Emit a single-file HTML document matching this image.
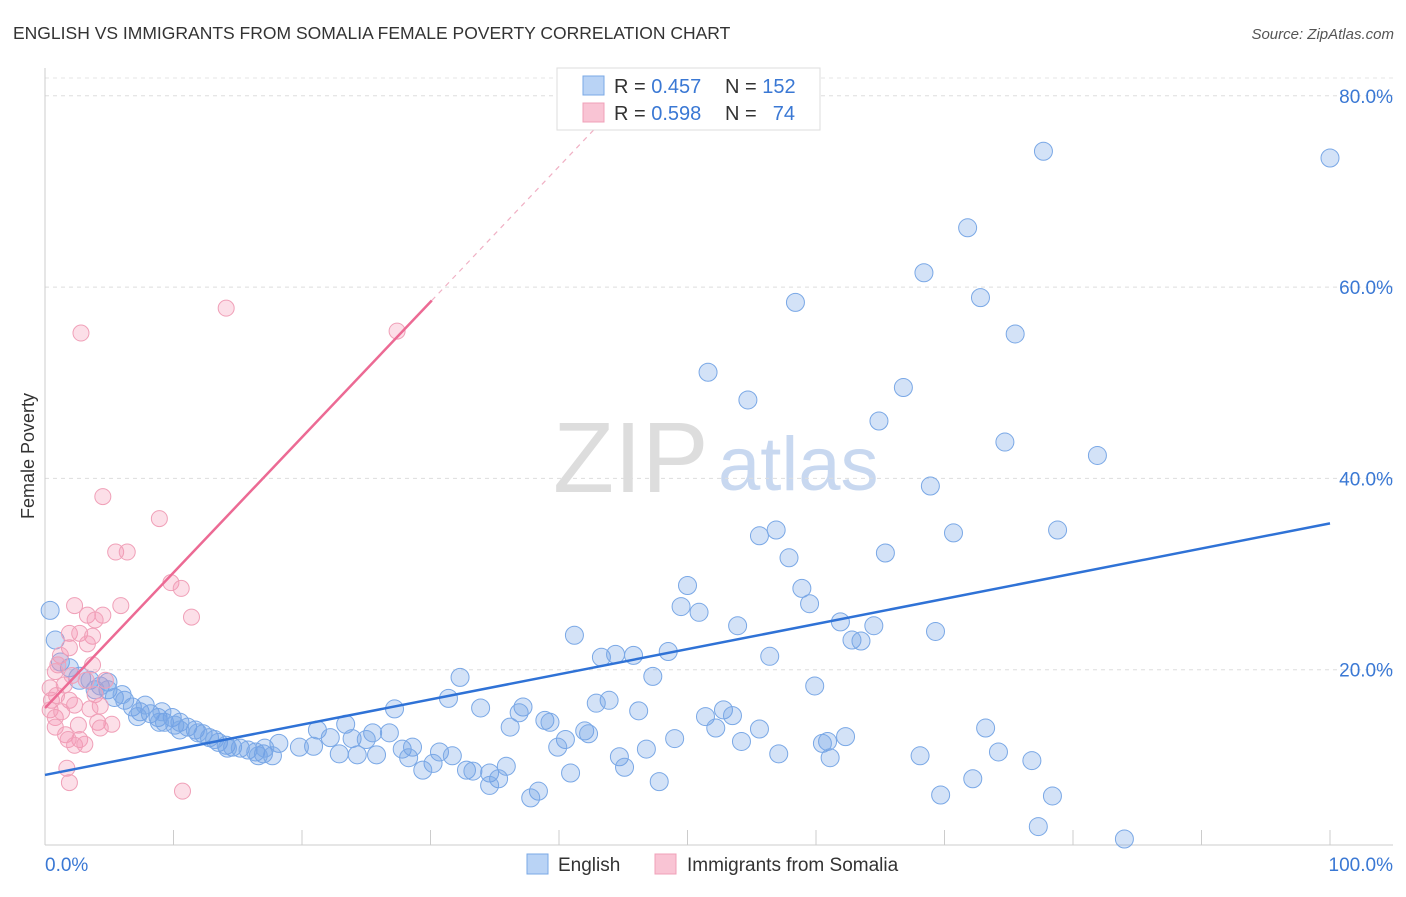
<!DOCTYPE html>
<html><head><meta charset="utf-8"><style>
body{margin:0;background:#fff;font-family:"Liberation Sans",sans-serif;}
svg text{font-family:"Liberation Sans",sans-serif;}
</style></head><body>
<svg id="chart" width="1406" height="892" viewBox="0 0 1406 892" xmlns="http://www.w3.org/2000/svg">
<text x="13" y="39" font-size="17.5" fill="#333">ENGLISH VS IMMIGRANTS FROM SOMALIA FEMALE POVERTY CORRELATION CHART</text>
<text x="1394" y="39" font-size="15" fill="#555" text-anchor="end" font-style="italic">Source: ZipAtlas.com</text>
<text x="553" y="492" font-size="100" fill="#ddd" font-family="Liberation Serif">ZIP</text>
<text x="718" y="490" font-size="76" fill="#c8d8f0">atlas</text>
<text x="34" y="456" font-size="18" fill="#333" text-anchor="middle" transform="rotate(-90 34 456)">Female Poverty</text>
<g id="grid"></g>
<g id="axes"></g>
<g id="pts"></g>
<g id="lines"></g>
<g>
<rect x="557" y="68" width="263" height="62" fill="#fff" stroke="#ddd"/>
<rect x="583" y="76" width="21" height="19" fill="#b9d3f5" stroke="#7aa8e6"/>
<rect x="583" y="103" width="21" height="19" fill="#f9c4d4" stroke="#f0a0b8"/>
<text x="614" y="93" font-size="20" fill="#333">R = <tspan fill="#3a78d4">0.457</tspan></text>
<text x="725" y="93" font-size="20" fill="#333">N = <tspan fill="#3a78d4">152</tspan></text>
<text x="614" y="120" font-size="20" fill="#333">R = <tspan fill="#3a78d4">0.598</tspan></text>
<text x="725" y="120" font-size="20" fill="#333">N =</text>
<text x="795" y="120" font-size="20" fill="#3a78d4" text-anchor="end">74</text>
</g>
<g>
<rect x="527" y="854" width="21" height="20" fill="#b9d3f5" stroke="#7aa8e6"/>
<text x="558" y="871" font-size="19" fill="#333">English</text>
<rect x="655" y="854" width="21" height="20" fill="#f9c4d4" stroke="#f0a0b8"/>
<text x="687" y="871" font-size="19" fill="#333">Immigrants from Somalia</text>
</g>
</svg>
<script>
const yTicks=[20,40,60,80];
const yTickLabels=["20.0%","40.0%","60.0%","80.0%"];
const xEndLabels=["0.0%","100.0%"];
const blueX=[77.7,100,71.8,68.4,72.8,58.4,75.5,51.6,66.8,54.7,64.9,74.7,81.9,68.9,56.9,78.8,55.6,70.7,57.9,65.4,50.0,58.9,49.5,50.9,59.5,53.9,61.9,64.5,69.3,41.2,62.8,63.5,43.3,44.4,45.8,48.5,56.4,32.3,47.3,59.9,31.4,43.9,42.9,27.2,33.9,37.2,36.9,46.2,52.8,51.4,53.5,38.9,39.3,23.4,21.2,25.5,26.8,36.2,42.0,42.3,52.2,55.6,73.2,22.2,23.9,25.0,40.5,49.0,54.2,60.9,62.3,60.5,39.9,46.8,18.2,20.9,19.8,27.8,28.6,30.7,31.7,22.9,24.3,25.8,28.3,44.7,57.1,68.1,74.2,61.1,76.8,30.2,29.4,32.8,33.3,34.6,35.9,45.1,40.9,35.3,34.6,47.8,72.2,69.7,78.4,38.4,37.8,77.3,84.0,0.4,0.8,1.2,1.9,2.7,3.5,4.3,4.9,5.4,6.2,6.8,7.4,8.2,8.8,9.3,9.9,10.5,11.1,11.7,12.3,12.8,13.5,14.1,14.6,15.2,15.8,16.4,17.0,17.7,7.2,8.9,10.1,11.9,13.2,14.2,16.6,4.9,3.9,6.0,7.8,9.1,10.5,17.1];
const blueY=[74.2,73.5,66.2,61.5,58.9,58.4,55.1,51.1,49.5,48.2,46.0,43.8,42.4,39.2,34.6,34.6,34.0,34.3,31.7,32.2,28.8,28.5,26.6,26.0,26.9,24.6,25.0,24.6,24.0,23.6,23.1,23.0,21.3,21.6,21.5,21.9,21.4,19.2,19.3,18.3,17.0,16.8,16.5,15.9,16.0,16.1,15.5,15.7,15.8,15.1,15.2,14.7,14.5,14.3,13.7,13.4,13.4,14.0,13.6,13.3,13.9,13.8,13.9,12.9,12.8,12.7,12.7,12.8,12.5,12.5,13.0,12.3,11.9,11.7,12.3,12.0,11.9,11.7,11.9,11.4,11.0,11.2,11.1,11.1,10.8,10.9,11.2,11.0,11.4,10.8,10.5,10.2,9.5,9.5,9.4,9.2,9.9,9.8,9.2,8.6,7.9,8.3,8.6,6.9,6.8,7.3,6.6,3.6,2.3,26.2,23.1,20.8,20.2,19.1,18.9,18.3,17.9,17.1,16.8,16.1,15.6,15.4,15.0,14.5,15.0,14.5,14.0,13.7,13.3,12.9,12.4,12.1,11.9,11.8,11.6,11.4,11.2,11.0,15.1,14.5,14.2,13.4,12.7,11.8,11.0,18.7,17.9,17.4,16.3,15.6,13.7,11.8];
const pinkX=[2.8,14.1,27.4,4.5,8.9,5.5,6.4,9.8,10.6,11.4,5.9,2.3,3.3,4.5,3.9,1.9,2.7,3.7,1.9,3.3,1.2,1.0,3.7,0.8,2.1,0.4,1.5,3.2,4.7,0.5,1.9,3.9,0.4,2.3,4.3,0.8,2.6,4.1,5.2,0.8,1.6,2.7,4.3,1.8,2.3,3.1,1.7,1.9,10.7,0.9,1.3,3.5];
const pinkY=[55.2,57.8,55.4,38.1,35.8,32.3,32.3,29.1,28.5,25.5,26.7,26.7,25.7,25.7,25.2,23.8,23.8,23.5,22.3,22.7,21.5,20.5,20.5,19.8,19.4,18.1,18.4,18.9,18.9,16.8,16.8,17.4,15.8,16.3,16.2,15.0,14.2,14.5,14.3,14.0,13.2,12.7,13.9,12.7,12.1,12.2,9.7,8.2,7.3,17.3,15.6,15.9];
const blueTrend=[9.0,35.3];
const pinkTrend=[16.0,58.6];
const NS="http://www.w3.org/2000/svg";
const X=v=>45+v*12.85, Y=v=>861-v*9.565;
function mk(tag,attrs,parent){const e=document.createElementNS(NS,tag);for(const k in attrs)e.setAttribute(k,attrs[k]);parent.appendChild(e);return e;}
const grid=document.getElementById('grid'),axes=document.getElementById('axes'),pts=document.getElementById('pts'),lines=document.getElementById('lines');
yTicks.forEach((t,i)=>{
 const l=mk('line',{x1:45,x2:1393,y1:Y(t),y2:Y(t),stroke:'#ddd','stroke-dasharray':'4,4'},grid);
 
 
 const tx=mk('text',{x:1393,y:Y(t)+7,'font-size':19,fill:'#3a78d4','text-anchor':'end'},axes);
 tx.textContent=yTickLabels[i];
 
 
});
const tl=mk('line',{x1:45,x2:1393,y1:78,y2:78,stroke:'#e4e4e4','stroke-dasharray':'4,4'},grid);


const xa=mk('line',{x1:45,x2:1393,y1:845,y2:845,stroke:'#ccc'},axes);


const ya=mk('line',{x1:45,x2:45,y1:68,y2:845,stroke:'#ccc'},axes);


for(let i=0;i<=10;i++){
 const t=mk('line',{x1:X(i*10),x2:X(i*10),y1:830,y2:845,stroke:'#ccc'},axes);
 
 
}
[[0,'start',45],[100,'end',1393]].forEach((a,i)=>{
 const tx=mk('text',{x:a[2],y:871,'font-size':19,fill:'#3a78d4','text-anchor':a[1]},axes);
 tx.textContent=xEndLabels[i];
 
 
});
blueX.forEach((x,i)=>{
 const r=(i===113)?11:9;
 const c=mk('circle',{cx:X(x),cy:Y(blueY[i]),r:r,fill:'rgba(110,160,230,0.3)',stroke:'#7aa8e6','stroke-width':1},pts);
 
 
});
pinkX.forEach((x,i)=>{
 const c=mk('circle',{cx:X(x),cy:Y(pinkY[i]),r:8,fill:'rgba(245,150,180,0.3)',stroke:'#f0a0b8','stroke-width':1},pts);
 
 
});
const bl=mk('line',{x1:X(0),y1:Y(blueTrend[0]),x2:X(100),y2:Y(blueTrend[1]),stroke:'#2f72d6','stroke-width':2.5},lines);


const slope=(pinkTrend[1]-pinkTrend[0])/30.1;
const pl=mk('line',{x1:X(0),y1:Y(pinkTrend[0]),x2:X(30.1),y2:Y(pinkTrend[1]),stroke:'#ec6a94','stroke-width':2.5},lines);


const pd=mk('line',{x1:X(30.1),y1:Y(pinkTrend[1]),x2:X(43.5),y2:Y(pinkTrend[0]+slope*43.5),stroke:'#f0b0c4','stroke-width':1.2,'stroke-dasharray':'5,5'},lines);


</script>
</body></html>
